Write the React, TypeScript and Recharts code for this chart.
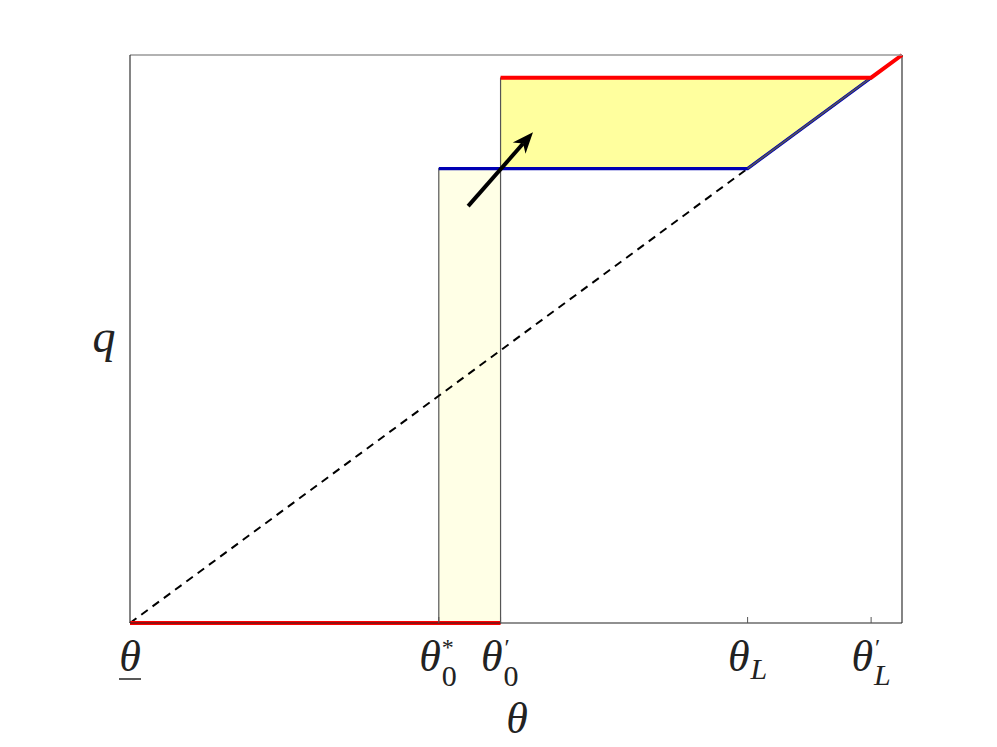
import React from 'react';
import { ComposedChart, XAxis, YAxis, Line, Area, ReferenceArea, ReferenceLine } from 'recharts';

// ---- data (normalized theta / q units) ----
const xTicks = [0, 0.4, 0.48, 0.8, 0.96];
const tickMain = ['θ', 'θ', 'θ', 'θ', 'θ'];
const tickSup = ['', '*', '′', '', '′'];
const tickSub = ['', '0', '0', 'L', 'L'];
const tickUnderline = [true, false, false, false, false];

const diagTheta = [0, 1];
const diagQ = [0, 1];

const redLowTheta = [0, 0.48];
const redLowQ = [0, 0];
const redHighTheta = [0.48, 0.96, 1];
const redHighQ = [0.96, 0.96, 1];

const blueTheta = [0.4, 0.8, 0.96];
const blueQ = [0.8, 0.8, 0.96];

const gainTheta = [0.48, 0.8, 0.96];
const gainLow = [0.8, 0.8, 0.96];
const gainHigh = [0.96, 0.96, 0.96];

const rectTheta = [0.4, 0.48];
const rectQ = [0, 0.8];

const arrowTheta = [0.438, 0.522];
const arrowQ = [0.734, 0.864];

const zip = (xs: number[], ys: number[]) => xs.map((x, i) => ({ t: x, q: ys[i] }));
const diagData = zip(diagTheta, diagQ);
const redLowData = zip(redLowTheta, redLowQ);
const redHighData = zip(redHighTheta, redHighQ);
const blueData = zip(blueTheta, blueQ);
const gainData = gainTheta.map((t, i) => ({ t, r: [gainLow[i], gainHigh[i]] }));

const FONT = '"Liberation Serif", "DejaVu Serif", serif';
const fontStyleObj = { fontFamily: FONT };

const BottomTick = (props: any) => {
  const { x, y, payload } = props;
  const i = xTicks.indexOf(payload.value);
  if (i < 0) return null;
  const hasPrime = tickSup[i] === '′';
  const subIsL = tickSub[i] === 'L';
  const under = tickUnderline[i];
  return (
    <g>
      {i > 0 && <line x1={x} x2={x} y1={y} y2={y - 6} stroke="#555" strokeWidth={1} />}
      {under && <line x1={x - 11} x2={x + 11} y1={y + 56} y2={y + 56} stroke="#222" strokeWidth={1.5} />}
      <text style={fontStyleObj} fill="#222">
        <tspan
          x={under ? x : x + 2}
          y={y + 48}
          textAnchor={under ? 'middle' : 'end'}
          fontStyle="italic"
          fontSize={44}
        >
          {tickMain[i]}
        </tspan>
        {tickSup[i] === '*' && (
          <tspan x={x + 3} y={y + 32} fontSize={24} textAnchor="start">*</tspan>
        )}
        {hasPrime && (
          <tspan x={x + 4} y={y + 32} fontSize={24} textAnchor="start">′</tspan>
        )}
        {tickSub[i] !== '' && (
          <tspan
            x={x + 3}
            y={subIsL ? (hasPrime ? y + 62 : y + 56) : y + 63}
            fontStyle={subIsL ? 'italic' : 'normal'}
            fontSize={30}
            textAnchor="start"
          >
            {tickSub[i]}
          </tspan>
        )}
      </text>
    </g>
  );
};

const TopTick = (props: any) => {
  const { x, y, payload } = props;
  if (payload.value === 0) return null;
  return <line x1={x} x2={x} y1={y} y2={y + 6} stroke="#777" strokeWidth={1} />;
};

const ArrowShape = (props: any) => {
  const { x1, y1, x2, y2 } = props;
  if (x1 == null) return null;
  const ang = Math.atan2(y2 - y1, x2 - x1);
  const c = Math.cos(ang);
  const s = Math.sin(ang);
  const len = 21;
  const half = 8.5;
  const bx = x2 - len * c;
  const by = y2 - len * s;
  const px = -s * half;
  const py = c * half;
  return (
    <g>
      <line x1={x1} y1={y1} x2={bx + 6 * c} y2={by + 6 * s} stroke="#000" strokeWidth={4} />
      <polygon points={`${x2},${y2} ${bx + px},${by + py} ${bx + 6 * c},${by + 6 * s} ${bx - px},${by - py}`} fill="#000" />
    </g>
  );
};

const XLabel = (p: any) => {
  const vb = p.viewBox || {};
  return (
    <text x={(vb.x ?? 130) + (vb.width ?? 772) / 2 + 1} y={(vb.y ?? 623) + 110} textAnchor="middle" style={fontStyleObj} fontStyle="italic" fontSize={44} fill="#222">
      θ
    </text>
  );
};

const YLabel = (p: any) => {
  const vb = p.viewBox || {};
  return (
    <text x={(vb.x ?? 129) + (vb.width ?? 1) - 26} y={(vb.y ?? 55) + 297} textAnchor="middle" style={fontStyleObj} fontStyle="italic" fontSize={46} fill="#222">
      q
    </text>
  );
};

export default function App() {
  return (
    <div style={{ position: 'absolute', left: 0, top: 0, width: 997, height: 747, background: '#fff' }}>
      <ComposedChart width={997} height={747} margin={{ top: 54, right: 95, bottom: 123, left: 129 }}>
        <XAxis
          dataKey="t"
          type="number"
          domain={[0, 1]}
          ticks={xTicks}
          height={1}
          tickSize={0}
          tickMargin={0}
          tickLine={false}
          interval={0}
          axisLine={{ stroke: '#222', strokeWidth: 1.2 }}
          tick={<BottomTick />}
          label={<XLabel />}
        />
        <XAxis
          xAxisId="top"
          orientation="top"
          dataKey="t"
          type="number"
          domain={[0, 1]}
          ticks={xTicks}
          height={1}
          tickSize={0}
          tickMargin={0}
          tickLine={false}
          interval={0}
          axisLine={{ stroke: '#999', strokeWidth: 1.5 }}
          tick={<TopTick />}
        />
        <YAxis
          type="number"
          domain={[0, 1]}
          width={1}
          tick={false}
          tickLine={false}
          axisLine={{ stroke: '#333', strokeWidth: 1.2 }}
          label={<YLabel />}
        />
        <ReferenceLine x={1} stroke="#333" strokeWidth={1.2} />
        <ReferenceArea
          x1={rectTheta[0]}
          x2={rectTheta[1]}
          y1={rectQ[0]}
          y2={rectQ[1]}
          fill="#FFFFE6"
          fillOpacity={1}
          stroke="#555"
          strokeWidth={1.2}
        />
        <Area
          data={gainData}
          dataKey="r"
          type="linear"
          fill="#FFFF9E"
          fillOpacity={1}
          stroke="#555"
          strokeWidth={1.2}
          isAnimationActive={false}
          dot={false}
          activeDot={false}
        />
        <ReferenceLine
          segment={[{ x: gainTheta[0], y: gainLow[0] }, { x: gainTheta[0], y: gainHigh[0] }]}
          stroke="#555"
          strokeWidth={1.2}
        />
        <Line
          data={diagData}
          dataKey="q"
          type="linear"
          stroke="#000"
          strokeWidth={2}
          strokeDasharray="8 6"
          dot={false}
          activeDot={false}
          isAnimationActive={false}
        />
        <Line
          data={blueData}
          dataKey="q"
          type="linear"
          stroke="#0000B4"
          strokeWidth={3.2}
          dot={false}
          activeDot={false}
          isAnimationActive={false}
        />
        <ReferenceLine
          segment={[{ x: blueTheta[1], y: blueQ[1] }, { x: blueTheta[2], y: blueQ[2] }]}
          stroke="#555"
          strokeWidth={1.5}
        />
        <Line
          data={redLowData}
          dataKey="q"
          type="linear"
          stroke="#FF0000"
          strokeWidth={4}
          dot={false}
          activeDot={false}
          isAnimationActive={false}
        />
        <Line
          data={redHighData}
          dataKey="q"
          type="linear"
          stroke="#FF0000"
          strokeWidth={4}
          dot={false}
          activeDot={false}
          isAnimationActive={false}
        />
        <ReferenceLine
          segment={[{ x: arrowTheta[0], y: arrowQ[0] }, { x: arrowTheta[1], y: arrowQ[1] }]}
          shape={<ArrowShape />}
        />
      </ComposedChart>
    </div>
  );
}
